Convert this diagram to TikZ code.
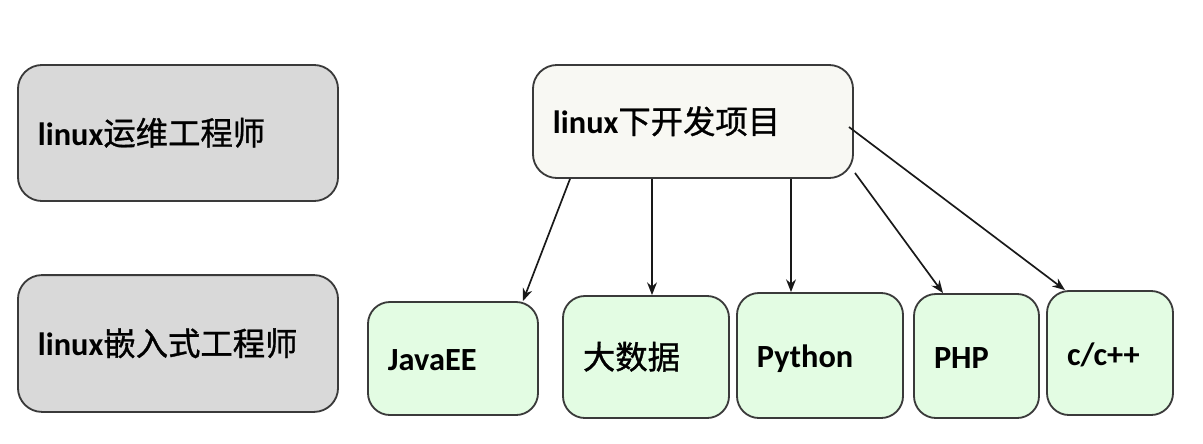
\documentclass[tikz,border=0pt]{standalone}
\usepackage{fontspec}
\setmainfont{Carlito}
\newfontfamily\cjk[FakeBold=1]{Noto Sans CJK SC}
\usetikzlibrary{calc, arrows.meta}
\definecolor{roleGray}{HTML}{D9D9D9}
\definecolor{devWhite}{HTML}{F8F8F3}
\definecolor{langGreen}{HTML}{E3FCE3}
\definecolor{edgeGray}{HTML}{3A3A3A}
\tikzset{>={Stealth[length=9pt, width=7pt]}}
\tikzset{
    box/.style 2 args={draw=edgeGray, line width=1.3pt, rounded corners=0.6cm,
        inner xsep=0.5cm, align=left, text width=#1, minimum height=#2,
        text height=0.65cm, text depth=0.05cm},
    role/.style={fill=roleGray},
    dev/.style={fill=devWhite},
    lang/.style={fill=langGreen, rounded corners=0.55cm},
    link/.style={->, line width=1.2pt, draw=black!90}
}
\newcommand{\zh}[1]{{\cjk\mdseries #1}}

\begin{document}
\begin{tikzpicture}[x=0.025cm, y=-0.025cm, font=\fontsize{23}{27}\selectfont\bfseries]
    \useasboundingbox (0,0) rectangle (1203,443);
    % left column
    \node[box={7cm}{3.4cm}, role] (ops) at (178,133) {linux\zh{运维工程师}};
    \node[box={7cm}{3.42cm}, role] (emb) at (178,343.5) {linux\zh{嵌入式工程师}};
    % projects
    \node[box={7cm}{2.825cm}, dev] (devp) at (693,121.5) {linux\zh{下开发项目}};
    \node[box={3.25cm}{2.825cm}, lang] (java) at (453,358.5) {JavaEE};
    \node[box={3.15cm}{3.05cm}, lang] (big) at (646,357) {\zh{大数据}};
    \node[box={3.15cm}{3.125cm}, lang] (py) at (820,355.5) {Python};
    \node[box={2.125cm}{3.1cm}, lang] (php) at (976.5,356) {PHP};
    \node[box={2.15cm}{3.1cm}, lang] (cpp) at (1110,353) {c/c++};
    \draw[link] ($(devp.south)+(-123,0)$) -- ($(java.north east)+(-16,0)$);
    \draw[link] ($(devp.south)+(-41,0)$) -- ($(big.north)+(6,0)$);
    \draw[link] ($(devp.south)+(98,0)$) -- ($(py.north)+(-29,0)$);
    \draw[link] ($(devp.south east)+(1,-6)$) -- ($(php.north)+(-33.5,0)$);
    \draw[link] ($(devp.east)+(-5,5.5)$) -- ($(cpp.north)+(-45,0)$);
\end{tikzpicture}
\end{document}
